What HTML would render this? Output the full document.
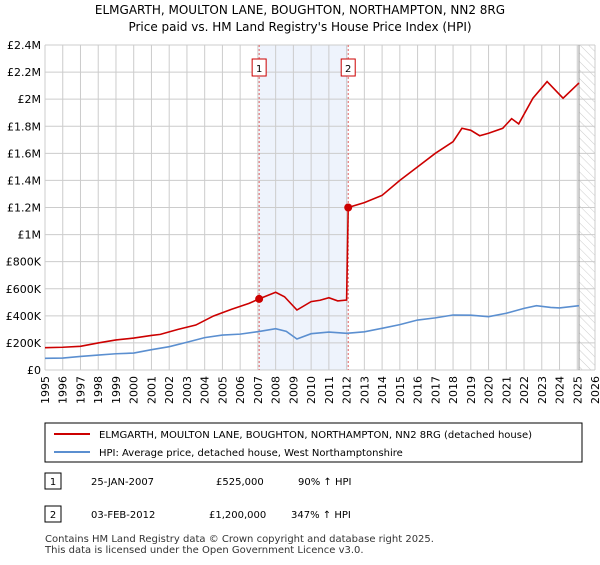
<!DOCTYPE html>
<html><head><meta charset="utf-8"><style>
body{margin:0;background:#fff;font-family:"Liberation Sans","DejaVu Sans",sans-serif;}
svg text{font-family:"DejaVu Sans","Liberation Sans",sans-serif;}
</style></head><body>
<svg id="c" width="600" height="560" xmlns="http://www.w3.org/2000/svg">
<text x="300" y="14" text-anchor="middle" font-size="12">ELMGARTH, MOULTON LANE, BOUGHTON, NORTHAMPTON, NN2 8RG</text>
<text x="300" y="31" text-anchor="middle" font-size="12">Price paid vs. HM Land Registry's House Price Index (HPI)</text>
<g id="plot"></g>
<rect x="45" y="423" width="537" height="39" fill="#fff" stroke="#000" stroke-width="1"/>
<line x1="54" y1="434" x2="90" y2="434" stroke="#cc0000" stroke-width="2"/>
<text x="99" y="438" font-size="10">ELMGARTH, MOULTON LANE, BOUGHTON, NORTHAMPTON, NN2 8RG (detached house)</text>
<line x1="54" y1="452" x2="90" y2="452" stroke="#5b8fd0" stroke-width="2"/>
<text x="99" y="456" font-size="10">HPI: Average price, detached house, West Northamptonshire</text>
<g>
<rect x="45" y="473" width="16" height="16" fill="#fff" stroke="#000"/><text x="53" y="485" font-size="10" text-anchor="middle">1</text>
<text x="91" y="485" font-size="10">25-JAN-2007</text><text x="216" y="485" font-size="10">£525,000</text><text x="298" y="485" font-size="10">90% ↑ HPI</text></g>
<g>
<rect x="45" y="506" width="16" height="16" fill="#fff" stroke="#000"/><text x="53" y="518" font-size="10" text-anchor="middle">2</text>
<text x="91" y="518" font-size="10">03-FEB-2012</text><text x="209" y="518" font-size="10">£1,200,000</text><text x="291" y="518" font-size="10">347% ↑ HPI</text></g>
<text x="45" y="542" font-size="10" fill="#333">Contains HM Land Registry data © Crown copyright and database right 2025.</text>
<text x="45" y="553" font-size="10" fill="#333">This data is licensed under the Open Government Licence v3.0.</text>
</svg>
<script>
const yTicks=[0,200000,400000,600000,800000,1000000,1200000,1400000,1600000,1800000,2000000,2200000,2400000];
const yLabels=["£0","£200K","£400K","£600K","£800K","£1M","£1.2M","£1.4M","£1.6M","£1.8M","£2M","£2.2M","£2.4M"];
const years=[1995,1996,1997,1998,1999,2000,2001,2002,2003,2004,2005,2006,2007,2008,2009,2010,2011,2012,2013,2014,2015,2016,2017,2018,2019,2020,2021,2022,2023,2024,2025,2026];
const hpiX=[1995,1996,1997,1998,1999,2000,2001,2002,2003,2004,2005,2006,2007,2008,2008.6,2009.2,2010,2011,2012,2013,2014,2015,2016,2017,2018,2019,2020,2021,2022,2022.7,2023.5,2024,2025.1];
const hpiY=[86000,88000,100000,110000,120000,125000,150000,172000,205000,239000,258000,265000,283000,305000,285000,229000,268000,280000,271000,282000,308000,335000,369000,385000,406000,405000,394000,419000,455000,475000,462000,458000,475000];
const ppX=[1995,1996,1997,1998,1999,2000,2001,2001.5,2002.5,2003.5,2004.5,2005.5,2006,2006.5,2007.07,2008,2008.5,2009.2,2010,2010.5,2011,2011.5,2012.0,2012.09,2013,2014,2015,2016,2017,2018,2018.5,2019,2019.5,2020,2020.8,2021.3,2021.7,2022.5,2023.3,2024.2,2025.1];
const ppY=[165000,168000,175000,200000,222000,236000,255000,263000,300000,332000,399000,448000,470000,492000,525000,574000,541000,443000,505000,515000,534000,510000,517000,1200000,1236000,1290000,1400000,1500000,1600000,1686000,1785000,1770000,1730000,1748000,1785000,1856000,1817000,2007000,2130000,2007000,2120000];
const sales=[[2007.07,525000,"1"],[2012.09,1200000,"2"]];
const L=45,R=595,T=45,B=370;
const X=y=>L+(y-1995)/(2026-1995)*(R-L);
const Y=v=>B-v/2400000*(B-T);
const NS="http://www.w3.org/2000/svg";
const g=document.getElementById('plot');
function mk(t,a){const e=document.createElementNS(NS,t);for(const k in a)e.setAttribute(k,a[k]);g.appendChild(e);return e;}
let e=mk('rect',{x:X(2007.07),y:T,width:X(2012.09)-X(2007.07),height:B-T,fill:'#eef3fc'});


const defs=mk('defs',{});defs.innerHTML='<pattern id="h" width="6" height="6" patternUnits="userSpaceOnUse" patternTransform="rotate(-45)"><line x1="0" y1="0" x2="0" y2="6" stroke="#ccc" stroke-width="1"/></pattern>';
e=mk('rect',{x:X(2025.1),y:T,width:R-X(2025.1),height:B-T,fill:'url(#h)'});


years.forEach(y=>{mk('line',{x1:X(y),x2:X(y),y1:T,y2:B,stroke:'#ccc'});
const tx=X(y)+4,ty=376;
e=mk('text',{x:tx,y:ty,'font-size':11,'text-anchor':'end',transform:`rotate(-90 ${tx} ${ty})`});e.textContent=y;

});
yTicks.forEach((v,i)=>{mk('line',{x1:L,x2:R,y1:Y(v),y2:Y(v),stroke:'#ccc'});
e=mk('text',{x:L-4,y:Y(v)+4,'font-size':11,'text-anchor':'end'});e.textContent=yLabels[i];

});
mk('line',{x1:X(2025.1),x2:X(2025.1),y1:T,y2:B,stroke:'#999'});
sales.forEach(s=>{mk('line',{x1:X(s[0]),x2:X(s[0]),y1:T,y2:B,stroke:'#e06060','stroke-dasharray':'2,2'});
e=mk('rect',{x:X(s[0])-7,y:59,width:14,height:17,fill:'#fff',stroke:'#cc0000'});


const t=mk('text',{x:X(s[0]),y:72,'font-size':10,'text-anchor':'middle'});t.textContent=s[2];});
e=mk('polyline',{points:hpiX.map((x,i)=>X(x)+','+Y(hpiY[i])).join(' '),fill:'none',stroke:'#5b8fd0','stroke-width':1.6});


e=mk('polyline',{points:ppX.map((x,i)=>X(x)+','+Y(ppY[i])).join(' '),fill:'none',stroke:'#cc0000','stroke-width':1.6});


sales.forEach(s=>{e=mk('circle',{cx:X(s[0]),cy:Y(s[1]),r:4,fill:'#cc0000'});

});
</script>
</body></html>
